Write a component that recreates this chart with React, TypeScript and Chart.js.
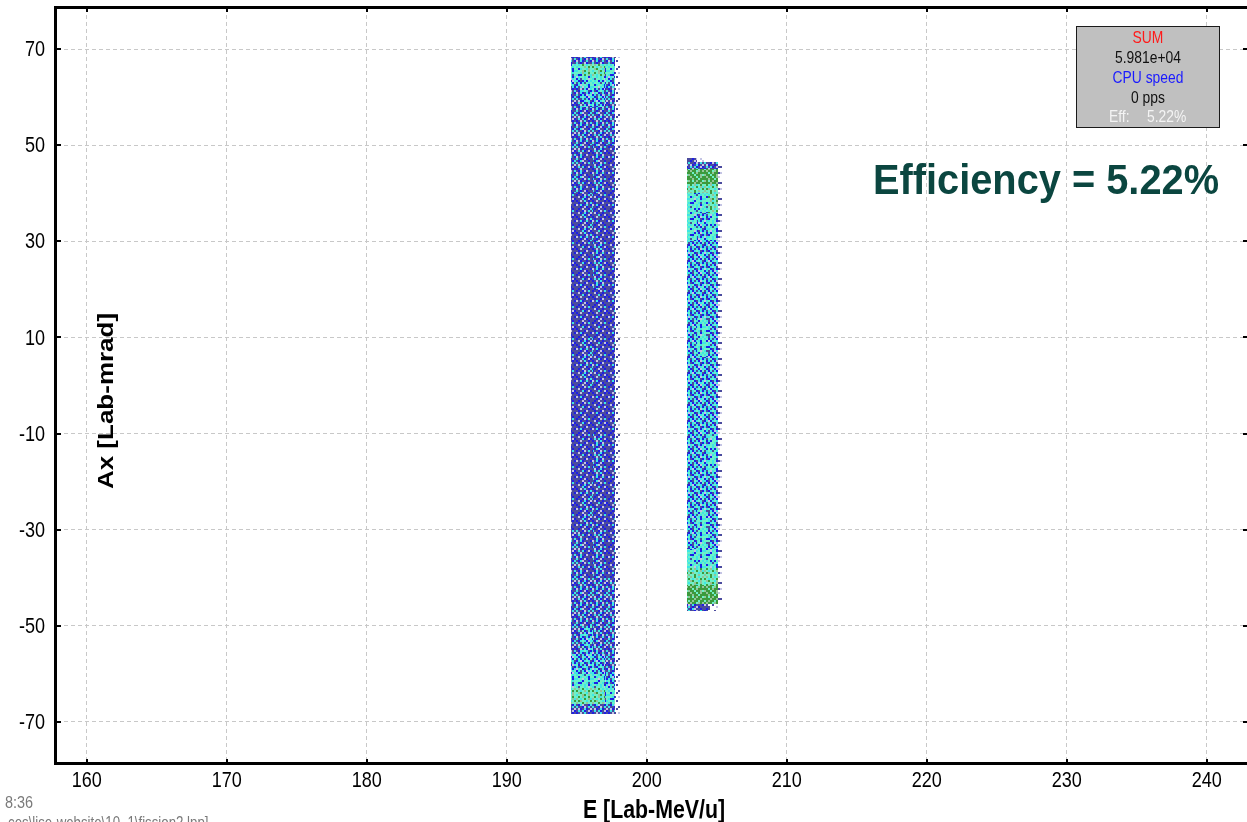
import React, { useEffect, useRef } from "react";
import { Chart, registerables } from "chart.js";
Chart.register(...registerables);

const W = 1247;
const H = 822;

// ---- axis data ----
const xTicks = [160, 170, 180, 190, 200, 210, 220, 230, 240];
const yTicks = [-70, -50, -30, -10, 10, 30, 50, 70];
const xLimits = [157.879, 242.879];
const yLimits = [-78.39, 78.599];

// ---- band 1 (density cells, levels; rows bottom -> top) ----
const band1XEdges = [194.6, 195.4, 196.2, 197.0, 197.75, 198.1];
const band1YEdges = [-68.3, -66.3, -63, -60, -56, -50, -40, -30, -20, -10, 0, 10, 20, 30, 40, 50, 58, 62, 64.5, 67, 68.3];
const band1Levels = [
  "33331",
  "66651",
  "55541",
  "44431",
  "34331",
  "33331",
  "32321",
  "23221",
  "22321",
  "22221",
  "23221",
  "22221",
  "22321",
  "23221",
  "32321",
  "33331",
  "34431",
  "45541",
  "56651",
  "33331",
];

// ---- band 2 ----
const band2XEdges = [202.85, 203.6, 204.35, 205.1, 205.35];
const band2YEdges = [-47, -45.5, -41.5, -38, -34, -26, -18, -10, -2, 6, 14, 22, 30, 36, 40, 42, 45, 46.5, 47.3];
const band2Levels = [
  "3210",
  "7771",
  "6661",
  "5551",
  "4541",
  "4441",
  "4451",
  "4441",
  "4441",
  "4541",
  "4441",
  "4441",
  "5451",
  "5561",
  "6661",
  "7771",
  "3321",
  "2100",
];

// ---- texts ----
const statsLines = ["SUM", "5.981e+04", "CPU speed", "0 pps"];
const effLabel = "Eff:";
const effValue = "5.22%";
const efficiencyText = "Efficiency = 5.22%";
const xTitle = "E [Lab-MeV/u]";
const yTitle = "Ax [Lab-mrad]";
const footerTime = "8:36";
const footerPath = "ces\\lise-website\\10_1\\fission2.lpp]";

// ---- styles ----
const PALETTE: Record<string, string> = {
  S: "#4b4b9e",
  B: "#1e1ee6",
  W: "#c4c4e4",
  C: "#3ee6e6",
  A: "#6ef0c8",
  G: "#3c9a3c",
  L: "#94c49a",
};
const TILES: Record<number, string[]> = {
  1: ["..S....W", ".W...S..", "....S...", "S.W....S", "...S.W..", ".S......", "W...S..S", "..S...W."],
  2: ["SBSWSSBS", "BSSBWSCS", "SWBSSBSS", "SSSCBSWB", "BSWSSSBS", "SBSSBWSS", "WSCBSSSB", "SSBSWBSS"],
  3: ["SBCWSSBC", "CSSBWSCS", "SWBSCBSW", "SCSCBSWB", "BSWSCSBS", "SBCSBWSC", "WSCBSCSB", "CSBSWBSS"],
  4: ["CBSACBWC", "SCBCSCBA", "BCWBCACS", "CSCABSCB", "ABCSCBWC", "CSBCACSB", "WCABSCBC", "BCSCBWCA"],
  5: ["ACABCBAC", "CAACSACA", "ABCAACBA", "CAAWCABC", "AACBAACA", "CBBAACSA", "AACACABC", "CSAACAWA"],
  6: ["ALAGACAL", "GACALAGA", "ALGAACLA", "CAALGALA", "AGALCAGA", "LACAGALC", "AGLAACAG", "LAAGALAA"],
  7: ["GLGGAGLG", "GGLGGAGG", "LGAGLGGA", "GGGLGGLG", "AGLGGAGG", "GLGGALGL", "GGAGLGGG", "LGGAGGLA"],
};

const FONT = "'Liberation Sans', Arial, sans-serif";

function makePattern(ctx: CanvasRenderingContext2D, rows: string[]) {
  const px = 2;
  const c = document.createElement("canvas");
  c.width = rows[0].length * px;
  c.height = rows.length * px;
  const g = c.getContext("2d")!;
  rows.forEach((row, j) => {
    row.split("").forEach((ch, i) => {
      const col = PALETTE[ch];
      if (col) {
        g.fillStyle = col;
        g.fillRect(i * px, j * px, px, px);
      }
    });
  });
  return ctx.createPattern(c, "repeat")!;
}

function drawText(
  ctx: CanvasRenderingContext2D,
  text: string,
  x: number,
  y: number,
  font: string,
  color: string,
  align: CanvasTextAlign,
  sx: number,
  sy = 1,
  rot = 0,
  baseline: CanvasTextBaseline = "alphabetic"
) {
  ctx.save();
  ctx.translate(x, y);
  if (rot) ctx.rotate(rot);
  ctx.scale(sx, sy);
  ctx.font = font;
  ctx.fillStyle = color;
  ctx.textAlign = align;
  ctx.textBaseline = baseline;
  ctx.fillText(text, 0, 0);
  ctx.restore();
}

export default function App() {
  const ref = useRef<HTMLCanvasElement | null>(null);

  useEffect(() => {
    const canvas = ref.current!;
    let patterns: Record<number, CanvasPattern> | null = null;

    const drawBand = (chart: any, xEdges: number[], yEdges: number[], levels: string[]) => {
      const ctx: CanvasRenderingContext2D = chart.ctx;
      const xs = chart.scales.x;
      const ys = chart.scales.y;
      levels.forEach((row, r) => {
        const yTop = Math.round(ys.getPixelForValue(yEdges[r + 1]));
        const yBot = Math.round(ys.getPixelForValue(yEdges[r]));
        row.split("").forEach((ch, c) => {
          const lv = Number(ch);
          if (!lv) return;
          const x0 = Math.round(xs.getPixelForValue(xEdges[c]));
          const x1 = Math.round(xs.getPixelForValue(xEdges[c + 1]));
          ctx.fillStyle = patterns![lv];
          ctx.fillRect(x0, yTop, x1 - x0, yBot - yTop);
        });
      });
    };

    const plugin = {
      id: "lise",
      beforeDraw(chart: any) {
        const ctx = chart.ctx;
        ctx.save();
        ctx.fillStyle = "#ffffff";
        ctx.fillRect(0, 0, chart.width, chart.height);
        ctx.restore();
      },
      beforeDatasetsDraw(chart: any) {
        const ctx: CanvasRenderingContext2D = chart.ctx;
        if (!patterns) {
          patterns = {};
          Object.keys(TILES).forEach((k) => {
            patterns![Number(k)] = makePattern(ctx, TILES[Number(k)]);
          });
        }
        const a = chart.chartArea;
        ctx.save();
        ctx.beginPath();
        ctx.rect(a.left, a.top, a.right - a.left, a.bottom - a.top);
        ctx.clip();
        drawBand(chart, band1XEdges, band1YEdges, band1Levels);
        drawBand(chart, band2XEdges, band2YEdges, band2Levels);
        ctx.restore();
      },
      afterDraw(chart: any) {
        const ctx: CanvasRenderingContext2D = chart.ctx;
        const a = chart.chartArea;
        const xs = chart.scales.x;
        const ys = chart.scales.y;
        ctx.save();
        // frame
        ctx.strokeStyle = "#000";
        ctx.lineWidth = 3;
        ctx.beginPath();
        ctx.moveTo(a.left - 1.5, a.top - 2);
        ctx.lineTo(a.left - 1.5, a.bottom + 3);
        ctx.moveTo(a.left - 3, a.top - 0.5);
        ctx.lineTo(W, a.top - 0.5);
        ctx.moveTo(a.left - 3, a.bottom + 1.5);
        ctx.lineTo(W, a.bottom + 1.5);
        ctx.stroke();
        // small tick marks
        ctx.fillStyle = "#000";
        yTicks.forEach((v) => {
          const y = Math.round(ys.getPixelForValue(v));
          ctx.fillRect(a.left, y - 1, 4, 2);
          ctx.fillRect(W - 4, y - 1, 4, 2);
        });
        xTicks.forEach((v) => {
          const x = Math.round(xs.getPixelForValue(v));
          ctx.fillRect(x - 1, a.top, 2, 4);
          ctx.fillRect(x - 1, a.bottom - 3, 2, 3);
        });
        ctx.restore();

        // tick labels (narrow lettering, positioned by the chart's scales)
        yTicks.forEach((v) => {
          drawText(ctx, String(v), 45, ys.getPixelForValue(v) + 1, `22px ${FONT}`, "#000", "right", 0.82, 1, 0, "middle");
        });
        xTicks.forEach((v) => {
          drawText(ctx, String(v), xs.getPixelForValue(v), 787, `22px ${FONT}`, "#000", "center", 0.82);
        });

        // axis titles
        drawText(ctx, xTitle, (a.left + a.right) / 2 + 2, 818, `bold 26px ${FONT}`, "#000", "center", 0.82);
        drawText(ctx, yTitle, 107, 401, `bold 26px ${FONT}`, "#000", "center", 1, 0.82, -Math.PI / 2, "middle");

        // efficiency annotation
        drawText(ctx, efficiencyText, 873, 194, `bold 43px ${FONT}`, "#0b4640", "left", 0.925);

        // stats box
        ctx.save();
        ctx.fillStyle = "#c0c0c0";
        ctx.fillRect(1076, 26, 143, 101);
        ctx.strokeStyle = "#1a1a1a";
        ctx.lineWidth = 1;
        ctx.strokeRect(1076.5, 26.5, 143, 101);
        ctx.restore();
        const statColors = ["#ff1a1a", "#111111", "#1a1aff", "#111111"];
        const statBase = [43, 63, 83, 103];
        statsLines.forEach((t, i) => {
          drawText(ctx, t, 1148, statBase[i], `16.5px ${FONT}`, statColors[i], "center", 0.84);
        });
        drawText(ctx, effLabel, 1109, 122, `16.5px ${FONT}`, "#f4f4f4", "left", 0.84);
        drawText(ctx, effValue, 1147, 122, `16.5px ${FONT}`, "#f4f4f4", "left", 0.84);

        // footer
        drawText(ctx, footerTime, 33, 808, `17px ${FONT}`, "#7a7a7a", "right", 0.85);
        drawText(ctx, footerPath, 8, 828, `17px ${FONT}`, "#7a7a7a", "left", 0.78);
      },
    };

    const chart = new Chart(canvas, {
      type: "scatter",
      data: { datasets: [{ data: [], pointRadius: 0 }] },
      options: {
        animation: false,
        responsive: false,
        events: [],
        layout: { padding: { left: 0, right: 0, top: 8, bottom: 0 } },
        plugins: { legend: { display: false }, tooltip: { enabled: false } },
        scales: {
          x: {
            type: "linear",
            min: xLimits[0],
            max: xLimits[1],
            afterBuildTicks: (s: any) => {
              s.ticks = xTicks.map((v) => ({ value: v }));
            },
            afterFit: (s: any) => {
              s.height = 60;
              s.paddingLeft = 0;
              s.paddingRight = 0;
            },
            grid: { color: "#c8c8c8", lineWidth: 1, drawTicks: false },
            border: { display: false, dash: [4, 3] },
            ticks: { display: false, autoSkip: false },
          },
          y: {
            type: "linear",
            min: yLimits[0],
            max: yLimits[1],
            afterBuildTicks: (s: any) => {
              s.ticks = yTicks.map((v) => ({ value: v }));
            },
            afterFit: (s: any) => {
              s.width = 57;
              s.paddingTop = 0;
              s.paddingBottom = 0;
            },
            grid: { color: "#c8c8c8", lineWidth: 1, drawTicks: false },
            border: { display: false, dash: [4, 3] },
            ticks: { display: false, autoSkip: false },
          },
        },
      } as any,
      plugins: [plugin],
    });

    return () => chart.destroy();
  }, []);

  return (
    <div style={{ position: "absolute", left: 0, top: 0, width: W, height: H, background: "#fff" }}>
      <canvas ref={ref} width={W} height={H} style={{ display: "block", width: W, height: H }} />
    </div>
  );
}
